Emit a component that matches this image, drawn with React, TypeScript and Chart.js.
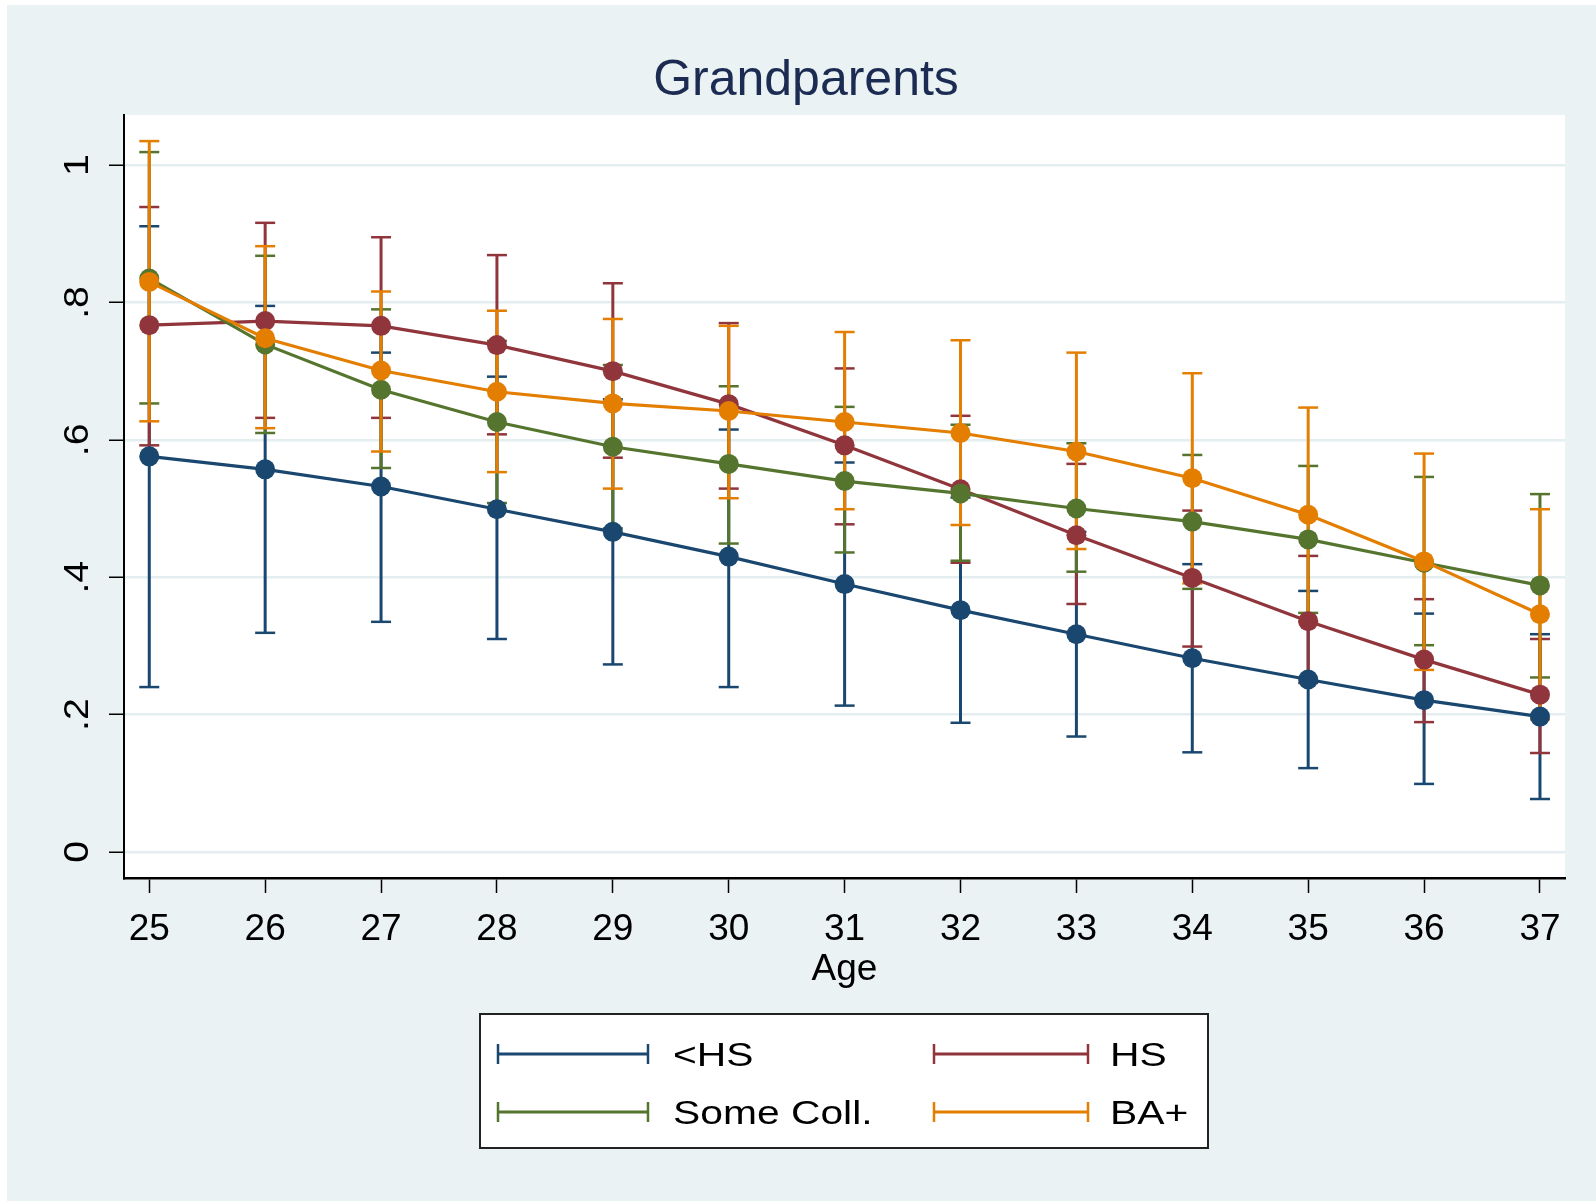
import React, { useEffect, useRef } from 'react';
import { Chart, registerables } from 'chart.js';

Chart.register(...registerables);

// ---------------- data ----------------
const AGES = [25, 26, 27, 28, 29, 30, 31, 32, 33, 34, 35, 36, 37];
const Y_TICKS = [0, 0.2, 0.4, 0.6, 0.8, 1];
const Y_TICK_LABELS = ['0', '.2', '.4', '.6', '.8', '1'];
const SERIES_NAMES = ['<HS', 'HS', 'Some Coll.', 'BA+'];

const LT_HS = [0.576, 0.557, 0.532, 0.499, 0.466, 0.430, 0.390, 0.352, 0.317, 0.282, 0.251, 0.221, 0.197];
const LT_HS_LO = [0.240, 0.319, 0.335, 0.310, 0.273, 0.240, 0.213, 0.188, 0.168, 0.145, 0.122, 0.099, 0.077];
const LT_HS_HI = [0.911, 0.795, 0.727, 0.692, 0.659, 0.615, 0.567, 0.516, 0.466, 0.419, 0.380, 0.347, 0.317];

const HS = [0.767, 0.773, 0.766, 0.738, 0.700, 0.652, 0.592, 0.528, 0.461, 0.399, 0.336, 0.280, 0.229];
const HS_LO = [0.592, 0.632, 0.632, 0.608, 0.574, 0.529, 0.477, 0.421, 0.361, 0.299, 0.246, 0.189, 0.144];
const HS_HI = [0.939, 0.916, 0.895, 0.869, 0.828, 0.770, 0.704, 0.635, 0.565, 0.497, 0.431, 0.368, 0.310];

const SOME_COLL = [0.835, 0.739, 0.673, 0.626, 0.590, 0.565, 0.540, 0.522, 0.500, 0.481, 0.455, 0.421, 0.388];
const SOME_COLL_LO = [0.653, 0.610, 0.559, 0.508, 0.471, 0.449, 0.436, 0.424, 0.408, 0.383, 0.348, 0.301, 0.254];
const SOME_COLL_HI = [1.019, 0.868, 0.790, 0.744, 0.709, 0.678, 0.648, 0.622, 0.595, 0.578, 0.562, 0.546, 0.521];

const BA_PLUS = [0.830, 0.748, 0.701, 0.670, 0.653, 0.642, 0.626, 0.610, 0.583, 0.544, 0.491, 0.423, 0.346];
const BA_PLUS_LO = [0.627, 0.617, 0.583, 0.553, 0.529, 0.515, 0.499, 0.476, 0.441, 0.391, 0.335, 0.265, 0.193];
const BA_PLUS_HI = [1.035, 0.882, 0.816, 0.788, 0.776, 0.766, 0.757, 0.745, 0.727, 0.697, 0.647, 0.580, 0.499];

// ---------------- styles ----------------
const COLORS = ['#1a476f', '#90353b', '#55752f', '#e37e00'];
const BG = '#eaf2f3';
const GRID = '#e4edef';
const TITLE_COLOR = '#1c2b52';
const FONT = '"Liberation Sans", Arial, Helvetica, sans-serif';

const SERIES = [
  { name: SERIES_NAMES[0], v: LT_HS, lo: LT_HS_LO, hi: LT_HS_HI, color: COLORS[0] },
  { name: SERIES_NAMES[1], v: HS, lo: HS_LO, hi: HS_HI, color: COLORS[1] },
  { name: SERIES_NAMES[2], v: SOME_COLL, lo: SOME_COLL_LO, hi: SOME_COLL_HI, color: COLORS[2] },
  { name: SERIES_NAMES[3], v: BA_PLUS, lo: BA_PLUS_LO, hi: BA_PLUS_HI, color: COLORS[3] },
];

function ciData(lo: number[], hi: number[]) {
  const out: any[] = [];
  AGES.forEach((a, i) => {
    out.push({ x: a, y: lo[i] }, { x: a, y: hi[i] }, { x: a, y: null });
  });
  return out;
}

const bgPlugin = {
  id: 'stataBg',
  beforeDraw(chart: any) {
    const { ctx, chartArea } = chart;
    ctx.save();
    ctx.fillStyle = '#ffffff';
    ctx.fillRect(0, 0, chart.width, chart.height);
    ctx.fillStyle = BG;
    ctx.fillRect(7, 5, chart.width - 7, chart.height - 5);
    ctx.fillStyle = '#ffffff';
    ctx.fillRect(chartArea.left, chartArea.top, chartArea.right - chartArea.left, chartArea.bottom - chartArea.top);
    ctx.restore();
  },
};

const yLabelPlugin = {
  id: 'yRotLabels',
  afterDraw(chart: any) {
    const { ctx } = chart;
    const ys = chart.scales.y;
    ctx.save();
    ctx.fillStyle = '#000';
    ctx.font = `35px ${FONT}`;
    ctx.textAlign = 'center';
    ctx.textBaseline = 'alphabetic';
    Y_TICKS.forEach((v, i) => {
      const py = ys.getPixelForValue(v);
      ctx.save();
      ctx.translate(88, py);
      ctx.rotate(-Math.PI / 2);
      ctx.scale(1.12, 1);
      ctx.fillText(Y_TICK_LABELS[i], 0, 0);
      ctx.restore();
    });
    ctx.restore();
  },
};

const legendPlugin = {
  id: 'stataLegend',
  afterDraw(chart: any) {
    const { ctx } = chart;
    const L = 480, T = 1014, R = 1208, B = 1148;
    ctx.save();
    ctx.fillStyle = '#ffffff';
    ctx.fillRect(L, T, R - L, B - T);
    ctx.strokeStyle = '#222';
    ctx.lineWidth = 2;
    ctx.strokeRect(L, T, R - L, B - T);
    const cols = [{ x1: 498, x2: 648, tx: 673 }, { x1: 934, x2: 1088, tx: 1110 }];
    const rows = [1054, 1112];
    SERIES.forEach((s, i) => {
      const c = cols[i % 2];
      const y = rows[Math.floor(i / 2)];
      ctx.strokeStyle = s.color;
      ctx.lineWidth = 3;
      ctx.beginPath();
      ctx.moveTo(c.x1, y);
      ctx.lineTo(c.x2, y);
      ctx.stroke();
      ctx.lineWidth = 2.5;
      ctx.beginPath();
      ctx.moveTo(c.x1, y - 10);
      ctx.lineTo(c.x1, y + 10);
      ctx.moveTo(c.x2, y - 10);
      ctx.lineTo(c.x2, y + 10);
      ctx.stroke();
      ctx.save();
      ctx.translate(c.tx, y + 12);
      ctx.scale(1.2, 1);
      ctx.fillStyle = '#000';
      ctx.font = `34px ${FONT}`;
      ctx.textAlign = 'left';
      ctx.textBaseline = 'alphabetic';
      ctx.fillText(s.name, 0, 0);
      ctx.restore();
    });
    ctx.restore();
  },
};

export default function App() {
  const canvasRef = useRef<HTMLCanvasElement | null>(null);

  useEffect(() => {
    const canvas = canvasRef.current;
    if (!canvas) return;

    const datasets: any[] = [];
    // error bars (drawn first)
    SERIES.forEach((s, i) => {
      datasets.push({
        type: 'line',
        label: s.name + ' CI',
        data: ciData(s.lo, s.hi),
        borderColor: s.color,
        backgroundColor: s.color,
        borderWidth: 3,
        pointStyle: 'line',
        pointRadius: 10,
        pointBorderWidth: 2.5,
        pointBorderColor: s.color,
        pointHoverRadius: 10,
        spanGaps: false,
        tension: 0,
        order: 5 + (3 - i),
      });
    });
    // estimates
    SERIES.forEach((s, i) => {
      datasets.push({
        type: 'line',
        label: s.name,
        data: AGES.map((a, j) => ({ x: a, y: s.v[j] })),
        borderColor: s.color,
        backgroundColor: s.color,
        borderWidth: 3.2,
        pointStyle: 'circle',
        pointRadius: 10,
        pointBorderWidth: 0,
        pointBackgroundColor: s.color,
        pointHoverRadius: 10,
        tension: 0,
        order: 4 - i,
      });
    });

    const chart = new Chart(canvas, {
      type: 'line',
      data: { datasets },
      plugins: [bgPlugin, yLabelPlugin, legendPlugin],
      options: {
        animation: false,
        responsive: false,
        devicePixelRatio: 1,
        events: [],
        layout: { padding: { top: 0, left: 47, right: 31, bottom: 209 } },
        plugins: {
          legend: { display: false },
          tooltip: { enabled: false },
          title: {
            display: true,
            text: 'Grandparents',
            color: TITLE_COLOR,
            font: { family: FONT, size: 50, weight: 'normal' },
            padding: { top: 51.5, bottom: 3.5 },
          },
        },
        scales: {
          x: {
            type: 'linear',
            min: 24.782,
            max: 37.216,
            afterBuildTicks: (scale: any) => {
              scale.ticks = AGES.map((v) => ({ value: v }));
            },
            afterFit: (scale: any) => {
              scale.height = 114;
            },
            ticks: {
              color: '#000',
              font: { family: FONT, size: 37 },
              padding: 15,
              maxRotation: 0,
              minRotation: 0,
              autoSkip: false,
            },
            grid: {
              display: true,
              drawOnChartArea: false,
              drawTicks: true,
              tickLength: 15,
              tickColor: '#000',
              tickWidth: 1.5,
            },
            border: { display: true, color: '#000', width: 2.5 },
            title: {
              display: true,
              text: 'Age',
              color: '#000',
              font: { family: FONT, size: 37 },
              padding: { top: 0, bottom: 0 },
            },
          },
          y: {
            type: 'linear',
            min: -0.038,
            max: 1.073,
            afterBuildTicks: (scale: any) => {
              scale.ticks = Y_TICKS.map((v) => ({ value: v }));
            },
            afterFit: (scale: any) => {
              scale.width = 77;
            },
            ticks: { display: false },
            grid: {
              display: true,
              drawOnChartArea: true,
              color: GRID,
              lineWidth: 2.5,
              drawTicks: true,
              tickLength: 15,
              tickColor: '#000',
              tickWidth: 1.5,
            },
            border: { display: true, color: '#000', width: 2 },
          },
        },
      } as any,
    });

    return () => {
      chart.destroy();
    };
  }, []);

  return (
    <div style={{ position: 'fixed', left: 0, top: 0, width: 1596, height: 1201, background: '#fff' }}>
      <canvas ref={canvasRef} width={1596} height={1201} style={{ display: 'block', width: 1596, height: 1201 }} />
    </div>
  );
}
